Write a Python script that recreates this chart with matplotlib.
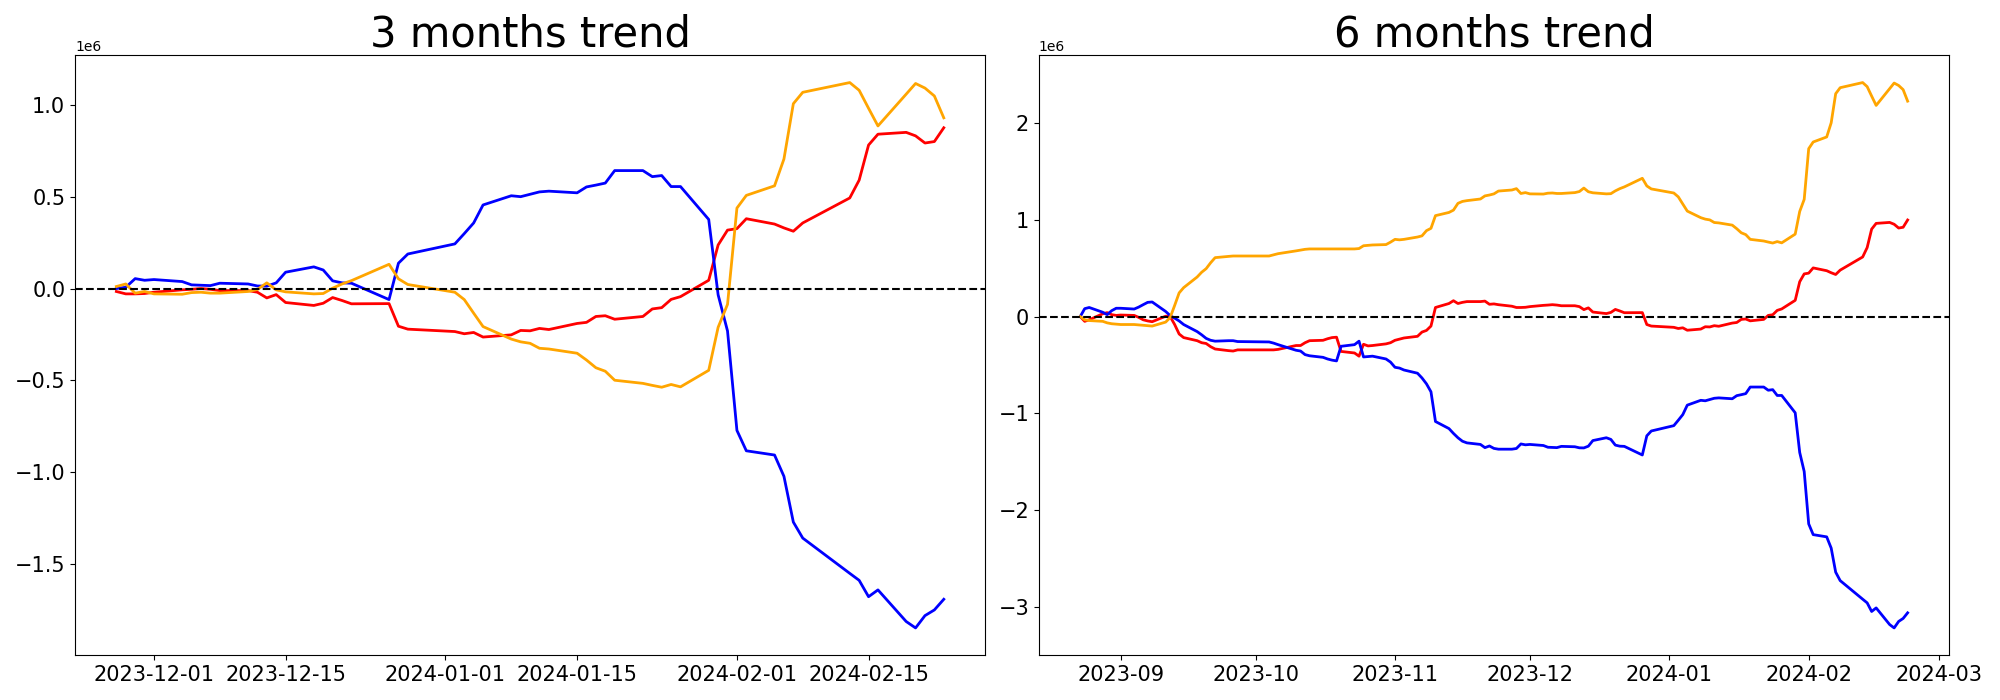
import numpy as np
import pandas as pd
import matplotlib
matplotlib.use("Agg")
import matplotlib.pyplot as plt

# trading calendar (exchange holidays dropped from business days)
holidays = ["2023-09-28", "2023-09-29", "2023-10-02", "2023-10-03", "2023-10-09",
            "2023-12-25", "2023-12-29", "2024-01-01", "2024-02-09", "2024-02-12"]
days = pd.bdate_range("2023-08-23", "2024-02-23")
days = days[~days.isin(pd.to_datetime(holidays))]

# cumulative values (1e6) from 2023-08-23 up to 2023-11-24
red_head = [0.0, -0.049, -0.033, 0.029, 0.041, 0.020, 0.012,
            0.016, 0.012, -0.008, -0.033, -0.045, -0.053, 0.004, 0.0, -0.082, -0.180,
            -0.217, -0.249, -0.270, -0.278, -0.311, -0.335, -0.352, -0.356, -0.344,
            -0.344, -0.344, -0.339, -0.299, -0.299, -0.270, -0.249, -0.245, -0.229, -0.217,
            -0.213, -0.360, -0.376, -0.409, -0.286, -0.303, -0.299, -0.282, -0.270,
            -0.245, -0.233, -0.221, -0.204, -0.160, -0.143, -0.098, 0.094, 0.135, 0.164,
            0.135, 0.147, 0.155, 0.155, 0.160, 0.127, 0.131, 0.123]
blue_head = [0.0, 0.082, 0.094, 0.045, 0.020, 0.061, 0.086,
             0.086, 0.078, 0.098, 0.123, 0.147, 0.151, 0.053, 0.01, -0.016, -0.045,
             -0.082, -0.155, -0.188, -0.225, -0.245, -0.254, -0.249, -0.249, -0.258,
             -0.262, -0.274, -0.290, -0.348, -0.356, -0.393, -0.405, -0.421, -0.438, -0.450,
             -0.458, -0.307, -0.290, -0.254, -0.417, -0.413, -0.409, -0.438, -0.470,
             -0.524, -0.532, -0.552, -0.585, -0.634, -0.695, -0.777, -1.084, -1.157, -1.207,
             -1.252, -1.288, -1.305, -1.321, -1.354, -1.337, -1.362, -1.370]
orange_head = [0.0, -0.033, -0.041, -0.049, -0.065, -0.074, -0.078,
               -0.082, -0.082, -0.086, -0.090, -0.094, -0.098, -0.057, -0.01, 0.115, 0.245,
               0.299, 0.409, 0.458, 0.495, 0.556, 0.609, 0.622, 0.626, 0.626,
               0.626, 0.638, 0.650, 0.679, 0.687, 0.695, 0.699, 0.699, 0.699, 0.699,
               0.699, 0.699, 0.699, 0.703, 0.732, 0.736, 0.740, 0.744, 0.769,
               0.798, 0.793, 0.798, 0.822, 0.834, 0.888, 0.912, 1.043, 1.076, 1.100,
               1.170, 1.190, 1.198, 1.215, 1.247, 1.256, 1.268, 1.297]

# cumulative values (1e6) over the last 60 trading days, 2023-11-27 .. 2024-02-23
red_3m = [-0.016, -0.029, -0.029, -0.027, -0.020,
          -0.007, -0.004, 0.0, -0.004, -0.011,
          -0.011, -0.020, -0.051, -0.033, -0.076,
          -0.092, -0.080, -0.049, -0.065, -0.083,
          -0.082, -0.205, -0.221,
          -0.234, -0.246, -0.239, -0.264,
          -0.252, -0.228, -0.230, -0.217, -0.223,
          -0.190, -0.184, -0.152, -0.148, -0.167,
          -0.152, -0.111, -0.104, -0.059, -0.044,
          0.045, 0.237, 0.318, 0.326, 0.380,
          0.351, 0.330, 0.312, 0.357,
          0.493, 0.590, 0.781, 0.840,
          0.850, 0.831, 0.792, 0.800, 0.875]
blue_3m = [0.0, 0.007, 0.054, 0.045, 0.049,
           0.038, 0.020, 0.018, 0.016, 0.029,
           0.025, 0.014, 0.013, 0.031, 0.089,
           0.118, 0.101, 0.042, 0.031, 0.029,
           -0.060, 0.138, 0.188,
           0.243, 0.299, 0.357, 0.455,
           0.505, 0.500, 0.513, 0.526, 0.530,
           0.521, 0.553, 0.563, 0.574, 0.642,
           0.642, 0.609, 0.615, 0.555, 0.555,
           0.376, -0.034, -0.231, -0.772, -0.883,
           -0.906, -1.022, -1.271, -1.358,
           -1.550, -1.588, -1.677, -1.640,
           -1.812, -1.847, -1.780, -1.749, -1.691]
orange_3m = [0.011, 0.025, -0.025, -0.016, -0.029,
             -0.031, -0.022, -0.020, -0.025, -0.025,
             -0.016, -0.005, 0.031, -0.007, -0.018,
             -0.029, -0.027, 0.002, 0.025, 0.043,
             0.132, 0.053, 0.022,
             -0.020, -0.060, -0.134, -0.207,
             -0.275, -0.290, -0.298, -0.325, -0.329,
             -0.352, -0.389, -0.431, -0.450, -0.499,
             -0.516, -0.527, -0.537, -0.522, -0.535,
             -0.445, -0.211, -0.086, 0.438, 0.507,
             0.559, 0.705, 1.006, 1.068,
             1.121, 1.079, 0.981, 0.885,
             1.058, 1.116, 1.091, 1.048, 0.929]

dates_3m = days[-len(red_3m):]
dates_6m = days


def six_month(head, tail):
    # 6 month cumulative = head up to the 3m window start + the 3m cumulative
    return np.concatenate([head, head[-1] + np.array(tail)])


trends = [
    ("3 months trend", dates_3m, [red_3m, blue_3m, orange_3m]),
    ("6 months trend", dates_6m, [six_month(red_head, red_3m),
                                  six_month(blue_head, blue_3m),
                                  six_month(orange_head, orange_3m)]),
]
colors = ["red", "blue", "orange"]

fig, axes = plt.subplots(1, 2, figsize=(20, 7))
fig.subplots_adjust(left=0.0375, right=0.9745, bottom=0.064, top=0.921, wspace=0.059)

for ax, (title, dates, series) in zip(axes, trends):
    for vals, c in zip(series, colors):
        ax.plot(dates, np.array(vals) * 1e6, color=c, lw=2)
    ax.axhline(0, color="black", linestyle="--", lw=1.5)
    ax.set_title(title, fontsize=30)
    ax.tick_params(labelsize=15)

plt.savefig("out.png", dpi=100)
